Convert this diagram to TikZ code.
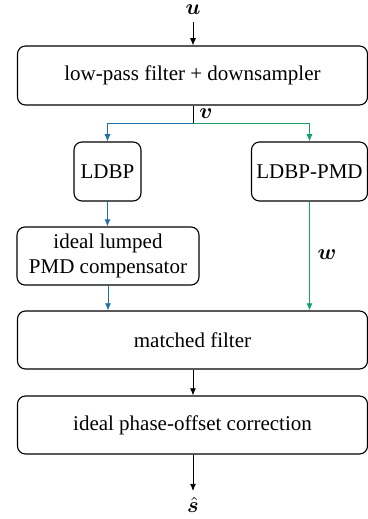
\documentclass[tikz,border=0pt]{standalone}
\usepackage{amsmath,bm}
\usepackage{fontspec}
\setmainfont{Liberation Serif}
\usetikzlibrary{arrows.meta}
\definecolor{cblue}{HTML}{1F6FAB}
\definecolor{cgreen}{HTML}{16A066}
\tikzset{
  blk/.style={draw, line width=0.55pt, rounded corners=4pt, inner sep=0pt, align=center, font=\fontsize{10.5}{12.5}\selectfont},
  arr/.style={line width=0.45pt, -{Latex[length=3.6pt,width=3pt]}},
  ln/.style={line width=0.45pt},
  lbl/.style={inner sep=0pt, font=\fontsize{10.5}{12}\selectfont}
}
\begin{document}
\begin{tikzpicture}[x=0.5pt,y=-0.5pt]
\useasboundingbox (0,0) rectangle (368,519);
\node[blk, minimum width=350*0.5pt, minimum height=59*0.5pt] (lp) at (192.5,75.5) {low-pass filter + downsampler};
\node[blk, minimum width=67*0.5pt, minimum height=59*0.5pt] (ld) at (107.5,171.5) {LDBP};
\node[blk, minimum width=116*0.5pt, minimum height=59*0.5pt] (lpmd) at (309.5,171.5) {LDBP-PMD};
\node[blk, minimum width=182*0.5pt, minimum height=58*0.5pt] (pmd) at (108,256) {ideal lumped\\PMD compensator};
\node[blk, minimum width=350*0.5pt, minimum height=58*0.5pt] (mf) at (192.5,340) {matched filter};
\node[blk, minimum width=350*0.5pt, minimum height=58*0.5pt] (po) at (192.5,425) {ideal phase-offset correction};
\node[lbl] (u) at (193,10) {$\bm{u}$};
\node[lbl] (s) at (193,505) {$\hat{\bm{s}}$};
\coordinate (ut) at (193,22);
\coordinate (sb) at (193,491);
\coordinate (br) at (193,123);
\draw[arr] (ut) -- (lp.north -| ut);
\draw[ln] (lp.south -| br) -- (br);
\node[lbl] (v) at (206,114) {$\bm{v}$};
\draw[arr, cblue] (br) -| (ld.north);
\draw[arr, cgreen] (br) -| (lpmd.north);
\draw[arr, cblue] (ld.south) -- (ld.south |- pmd.north);
\draw[arr, cblue] (pmd.south) -- (pmd.south |- mf.north);
\draw[arr, cgreen] (lpmd.south) -- (lpmd.south |- mf.north);
\node[lbl] (w) at (327,255) {$\bm{w}$};
\draw[arr] (mf.south -| ut) -- (po.north -| ut);
\draw[arr] (po.south -| ut) -- (sb);
\end{tikzpicture}
\end{document}
